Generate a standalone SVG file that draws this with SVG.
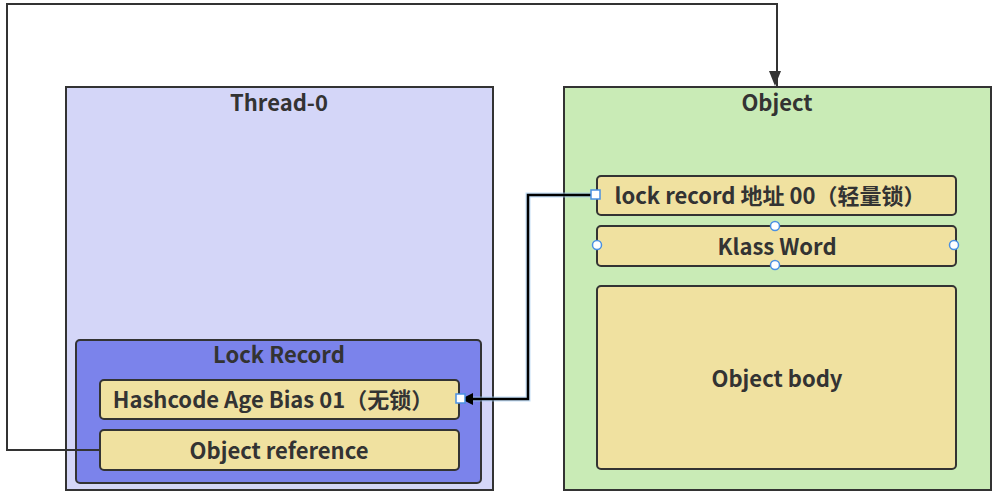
<svg xmlns="http://www.w3.org/2000/svg" width="1000" height="496" viewBox="0 0 1000 496">
<defs>
<style>
text{font-family:"Noto Sans CJK SC","Open Sans",sans-serif;font-weight:bold;fill:#333;text-anchor:middle;dominant-baseline:central;font-size:22px}
.outer{stroke:#333;stroke-width:2}
.field{fill:#f0e1a0;stroke:#333;stroke-width:2}
.edge{fill:none;stroke:#333;stroke-width:2}
.handle{fill:#fff;stroke:#4a90e2;stroke-width:1.5}
</style>
<marker id="arr" markerWidth="12" markerHeight="16" refX="8" refY="15" orient="0" markerUnits="userSpaceOnUse">
<path d="M2,0 L14,0 L8,15 z" fill="#333" transform="translate(-2,0)"/>
</marker>
<marker id="arr2" markerWidth="12" markerHeight="12" refX="11" refY="6" orient="auto" markerUnits="userSpaceOnUse">
<path d="M0,0 L12,6 L0,12 z" fill="#000"/>
</marker>
</defs>
<rect width="1000" height="496" fill="#fff"/>
<g id="thread0">
<rect class="outer" x="66" y="87" width="427" height="403" fill="#d4d6f8"/>
<text x="279" y="101">Thread-0</text>
</g>
<g id="object">
<rect class="outer" x="564" y="87" width="427" height="403" fill="#c9ebb6"/>
<text x="777" y="101">Object</text>
</g>
<g id="lockrecord">
<rect x="76" y="340" width="405" height="143" rx="4" fill="#7b83eb" stroke="#333" stroke-width="2"/>
<text x="279" y="353">Lock Record</text>
</g>
<g id="hashcode">
<rect class="field" x="100" y="380" width="359" height="39" rx="4"/>
<text x="273" y="398">Hashcode Age Bias 01（无锁）</text>
</g>
<g id="objref">
<rect class="field" x="100" y="430" width="359" height="40" rx="4"/>
<text x="279" y="449">Object reference</text>
</g>
<g id="lockrecordaddr">
<rect class="field" x="597" y="176" width="359" height="39" rx="4"/>
<text x="770" y="194">lock record 地址 00（轻量锁）</text>
</g>
<g id="klassword">
<rect class="field" x="597" y="226" width="359" height="40" rx="4"/>
<text x="777" y="245">Klass Word</text>
</g>
<g id="objectbody">
<rect class="field" x="597" y="286" width="359" height="183" rx="4"/>
<text x="777" y="377">Object body</text>
</g>
<g id="connectors">
<path class="edge" d="M100,450 H7 V4 H777 V86" marker-end="url(#arr)"/>
<path d="M596,195 H528 V399 H462" fill="none" stroke="#9cc8f0" stroke-width="5" opacity="0.6"/>
<path d="M596,195 H528 V399 H462" fill="none" stroke="#000" stroke-width="2.5" marker-end="url(#arr2)"/>
<rect class="handle" x="591" y="190" width="9" height="9"/>
<rect class="handle" x="456" y="394" width="9" height="9"/>
<circle class="handle" cx="775" cy="226" r="4.5"/>
<circle class="handle" cx="775" cy="265" r="4.5"/>
<circle class="handle" cx="597" cy="245" r="4.5"/>
<circle class="handle" cx="954" cy="245" r="4.5"/>
</g>
</svg>
